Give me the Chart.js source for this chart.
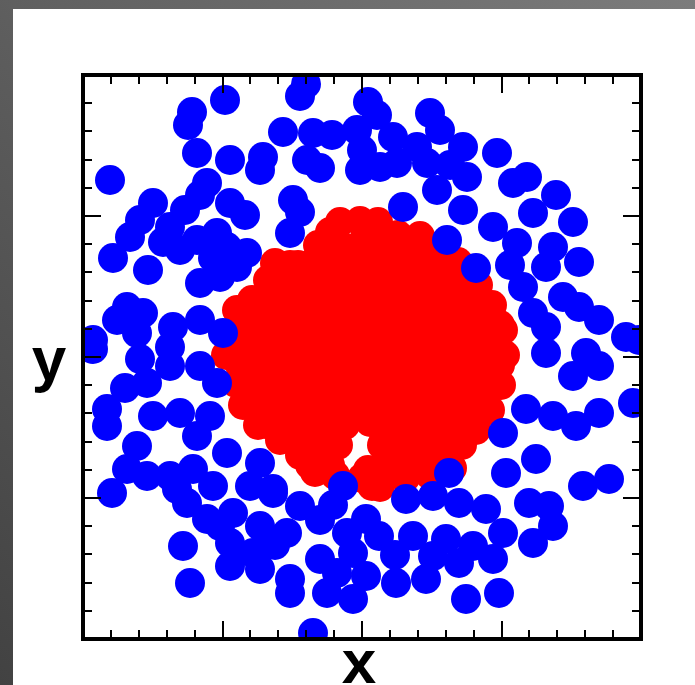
<!DOCTYPE html>
<html>
<head>
  <title>Circles Scatter</title>
  <script src="https://cdn.jsdelivr.net/npm/chart.js@4.4.0/dist/chart.umd.min.js"></script>
  <style>
    html, body { margin: 0; padding: 0; background: #555; }
    canvas { display: block; }
  </style>
</head>
<body>
  <canvas id="chart" width="695" height="685"></canvas>

  <script>
    // axis limits
    const xRange = [-2.80, 2.78];
    const yRange = [-2.83, 2.81];
    const axisTitles = ['x', 'y'];

    // outer ring (class 0)
    const ringPoints = [
      // upper left
      [-2.53, 1.76], [-1.38, 2.56], [-1.71, 2.44], [-1.75, 2.31], [-1.66, 2.03], [-1.33, 1.96],
      [-1.56, 1.73], [-1.63, 1.61], [-1.33, 1.53], [-2.10, 1.53], [-2.23, 1.36], [-2.33, 1.19],
      [-2.50, 0.98], [-2.15, 0.86], [-1.93, 1.29], [-1.83, 1.06], [-1.66, 1.16], [-1.46, 1.23],
      [-1.36, 1.09], [-1.16, 1.03], [-1.26, 0.89], [-1.63, 0.73], [-1.43, 0.79], [-2.36, 0.49],
      [-2.46, 0.36], [-2.20, 0.43], [-2.26, 0.23], [-2.70, 0.16], [-1.90, 0.29], [-1.63, 0.36],
      [-1.40, 0.23], [-1.93, 0.09], [-2.00, 1.14], [-1.50, 0.98], [-1.18, 1.41], [-1.78, 1.46],
      // top band
      [-0.63, 2.60], [-0.57, 2.72], [0.05, 2.54], [0.14, 2.41], [-0.80, 2.24], [-1.00, 1.99],
      [-1.03, 1.86], [-0.50, 2.23], [-0.31, 2.21], [-0.56, 1.96], [-0.43, 1.88], [-0.06, 2.26],
      [-0.01, 2.06], [-0.03, 1.86], [0.17, 1.89], [0.34, 1.93], [0.30, 2.19], [0.67, 2.43],
      [0.77, 2.26], [0.54, 2.09], [0.64, 1.93], [1.00, 2.09], [1.34, 2.03], [1.04, 1.79],
      [0.74, 1.66], [0.40, 1.49], [1.00, 1.46], [1.50, 1.73], [1.64, 1.79], [-0.70, 1.56],
      [-0.63, 1.44], [-0.73, 1.23], [0.84, 1.16], [1.70, 1.43], [1.30, 1.29], [1.54, 1.13],
      [0.87, 1.91],
      // upper right
      [1.93, 1.61], [2.10, 1.34], [1.13, 0.88], [1.90, 1.09], [2.16, 0.94], [1.83, 0.89],
      [1.60, 0.69], [2.00, 0.59], [2.16, 0.49], [1.70, 0.43], [1.83, 0.29], [2.36, 0.36],
      [2.63, 0.19], [2.76, 0.16], [1.83, 0.03], [2.23, 0.03], [1.47, 0.91],
      // lower right
      [2.10, -0.20], [2.36, -0.10], [2.70, -0.47], [1.63, -0.53], [1.90, -0.60], [2.36, -0.57],
      [2.13, -0.70], [1.40, -0.77], [1.73, -1.03], [1.43, -1.17], [2.20, -1.30], [2.46, -1.23],
      [0.86, -1.17], [0.43, -1.43], [0.70, -1.40], [0.96, -1.47], [1.23, -1.53],
      [1.66, -1.47], [1.86, -1.50], [1.90, -1.70], [1.70, -1.87], [1.40, -1.77], [0.03, -1.63],
      [0.16, -1.80], [0.50, -1.80], [0.83, -1.83], [1.10, -1.90], [1.30, -2.03], [-0.10, -1.97],
      [0.03, -2.20], [0.33, -2.27], [0.63, -2.23], [0.96, -2.07], [1.03, -2.43], [1.36, -2.37],
      [-0.10, -2.43], [0.70, -2.00], [0.32, -1.99],
      // lower left
      [-2.70, 0.07], [-2.23, -0.03], [-1.93, -0.10], [-1.63, -0.10], [-1.46, -0.27], [-2.16, -0.27],
      [-2.56, -0.53], [-2.56, -0.70], [-2.10, -0.60], [-1.83, -0.57], [-1.53, -0.60], [-1.66, -0.80],
      [-1.36, -0.97], [-2.26, -0.90], [-2.36, -1.13], [-2.16, -1.20], [-2.51, -1.37], [-1.93, -1.20],
      [-1.70, -1.13], [-1.50, -1.30], [-1.76, -1.47], [-1.56, -1.63], [-1.03, -1.07], [-1.13, -1.30],
      [-0.90, -1.37], [-0.63, -1.50], [-1.30, -1.57], [-1.03, -1.70], [-0.76, -1.77], [-1.33, -1.87],
      [-1.10, -1.97], [-1.33, -2.10], [-1.03, -2.13], [-1.80, -1.90], [-1.73, -2.27], [-0.73, -2.23],
      [-0.73, -2.37], [-0.36, -2.37], [-0.26, -2.17], [-0.16, -1.77], [-0.20, -1.30], [-0.50, -2.77],
      [-0.43, -2.03], [-0.43, -1.64], [-0.30, -1.49], [-1.86, -1.33], [-1.43, -1.70], [-0.90, -1.33],
      [-2.38, -0.32], [-0.88, -1.89]
    ];

    // inner disc (class 1)
    const discPoints = [
      [-0.23, 1.34], [-0.03, 1.35], [0.15, 1.34], [0.35, 1.21], [0.57, 1.20], [0.77, 1.08],
      [0.95, 0.94], [1.15, 0.71], [1.29, 0.51], [1.40, 0.26], [1.42, 0.01], [1.38, -0.29],
      [1.27, -0.54], [1.13, -0.74], [0.99, -0.89], [0.89, -1.12], [0.67, -1.19], [0.42, -1.22],
      [0.17, -1.31], [-0.01, -1.22], [-0.28, -1.19], [-0.48, -1.16], [-0.63, -0.99], [-0.83, -0.84],
      [-1.05, -0.69], [-1.20, -0.49], [-1.27, -0.27], [-1.37, 0.01], [-1.27, 0.21], [-1.26, 0.46],
      [-1.11, 0.56], [-0.95, 0.76], [-0.88, 0.93], [-0.65, 0.91], [-0.45, 1.11], [-0.33, 1.24],
      [-0.23, 1.11], [-0.03, 1.11], [0.17, 1.11], [0.37, 1.11], [0.57, 1.11],
      [-0.73, 0.91], [-0.53, 0.91], [-0.33, 0.91], [-0.13, 0.91], [0.07, 0.91], [0.27, 0.91],
      [0.47, 0.91], [0.67, 0.91], [0.87, 0.91],
      [-0.83, 0.71], [-0.63, 0.71], [-0.43, 0.71], [-0.23, 0.71], [-0.03, 0.71], [0.17, 0.71],
      [0.37, 0.71], [0.57, 0.71], [0.77, 0.71], [0.97, 0.71],
      [-1.13, 0.51], [-0.93, 0.51], [-0.73, 0.51], [-0.53, 0.51], [-0.33, 0.51], [-0.13, 0.51],
      [0.07, 0.51], [0.27, 0.51], [0.47, 0.51], [0.67, 0.51], [0.87, 0.51], [1.07, 0.51],
      [-1.23, 0.31], [-1.03, 0.31], [-0.83, 0.31], [-0.63, 0.31], [-0.43, 0.31], [-0.23, 0.31],
      [-0.03, 0.31], [0.17, 0.31], [0.37, 0.31], [0.57, 0.31], [0.77, 0.31], [0.97, 0.31],
      [1.17, 0.31], [1.37, 0.31],
      [-1.33, 0.11], [-1.13, 0.11], [-0.93, 0.11], [-0.73, 0.11], [-0.53, 0.11], [-0.33, 0.11],
      [-0.13, 0.11], [0.07, 0.11], [0.27, 0.11], [0.47, 0.11], [0.67, 0.11], [0.87, 0.11],
      [1.07, 0.11], [1.27, 0.11],
      [-1.23, -0.09], [-1.03, -0.09], [-0.83, -0.09], [-0.63, -0.09], [-0.43, -0.09], [-0.23, -0.09],
      [-0.03, -0.09], [0.17, -0.09], [0.37, -0.09], [0.57, -0.09], [0.77, -0.09], [0.97, -0.09],
      [1.17, -0.09], [1.37, -0.09],
      [-1.13, -0.29], [-0.93, -0.29], [-0.73, -0.29], [-0.53, -0.29], [-0.33, -0.29], [-0.13, -0.29],
      [0.07, -0.29], [0.27, -0.29], [0.47, -0.29], [0.67, -0.29], [0.87, -0.29], [1.07, -0.29],
      [1.27, -0.29],
      [-1.03, -0.49], [-0.83, -0.49], [-0.63, -0.49], [-0.43, -0.49], [-0.23, -0.49], [-0.03, -0.49],
      [0.17, -0.49], [0.37, -0.49], [0.57, -0.49], [0.77, -0.49], [0.97, -0.49], [1.17, -0.49],
      [-0.93, -0.69], [-0.73, -0.69], [-0.53, -0.69], [-0.33, -0.69], [-0.18, -0.69], [0.07, -0.66],
      [0.27, -0.69], [0.47, -0.69], [0.67, -0.69], [0.87, -0.69], [1.07, -0.69],
      [-0.63, -0.89], [-0.43, -0.89], [-0.25, -0.89], [0.19, -0.89], [0.37, -0.89], [0.57, -0.89],
      [0.77, -0.89],
      [-0.53, -1.09], [-0.33, -1.09], [0.05, -1.14], [0.09, -1.30], [0.27, -1.09], [0.47, -1.09],
      [0.67, -1.09], [0.87, -1.09]
    ];

    const toXY = pts => pts.map(p => ({ x: p[0], y: p[1] }));

    // grey frame around the white panel
    const backdrop = {
      id: 'backdrop',
      beforeDraw(chart) {
        const { ctx, width, height } = chart;
        ctx.save();
        const g = ctx.createLinearGradient(0, height, width, 0);
        g.addColorStop(0, '#424242');
        g.addColorStop(1, '#7c7c7c');
        ctx.fillStyle = g;
        ctx.fillRect(0, 0, width, height);
        ctx.fillStyle = '#ffffff';
        ctx.fillRect(13, 9, width - 13, height - 9);
        ctx.restore();
      }
    };

    // box with inward ticks on all four sides, plus axis letters
    const frame = {
      id: 'frame',
      afterDatasetsDraw(chart) {
        const { ctx, chartArea: a, scales } = chart;
        const xs = scales.x, ys = scales.y;
        ctx.save();
        ctx.strokeStyle = '#000';
        ctx.lineWidth = 2;
        ctx.beginPath();
        for (let i = 1; i < 20; i++) {
          const len = i % 5 === 0 ? 18 : 9;
          const px = Math.round(xs.getPixelForValue(xRange[0] + (xRange[1] - xRange[0]) * i / 20));
          ctx.moveTo(px, a.bottom); ctx.lineTo(px, a.bottom - len);
          ctx.moveTo(px, a.top); ctx.lineTo(px, a.top + len);
          const py = Math.round(ys.getPixelForValue(yRange[0] + (yRange[1] - yRange[0]) * i / 20));
          ctx.moveTo(a.left, py); ctx.lineTo(a.left + len, py);
          ctx.moveTo(a.right, py); ctx.lineTo(a.right - len, py);
        }
        ctx.stroke();
        ctx.lineWidth = 4;
        ctx.strokeRect(a.left, a.top, a.right - a.left, a.bottom - a.top);

        ctx.fillStyle = '#000';
        ctx.font = 'bold 62px "Liberation Sans", Arial, sans-serif';
        ctx.textAlign = 'center';
        ctx.textBaseline = 'alphabetic';
        ctx.fillText(axisTitles[0], (a.left + a.right) / 2 - 3, 683);
        ctx.fillText(axisTitles[1], 49, 380);
        ctx.restore();
      }
    };

    new Chart(document.getElementById('chart'), {
      type: 'scatter',
      data: {
        datasets: [
          {
            label: 'ring',
            data: toXY(ringPoints),
            backgroundColor: '#0000ff',
            borderWidth: 0,
            pointRadius: 15,
            pointHoverRadius: 15,
            clip: 0,
            order: 0
          },
          {
            label: 'disc',
            data: toXY(discPoints),
            backgroundColor: '#ff0000',
            borderWidth: 0,
            pointRadius: 15,
            pointHoverRadius: 15,
            clip: 0,
            order: 1
          }
        ]
      },
      options: {
        responsive: false,
        devicePixelRatio: 1,
        animation: false,
        events: [],
        layout: { padding: { left: 83, top: 75, right: 54, bottom: 46 } },
        plugins: { legend: { display: false }, tooltip: { enabled: false } },
        scales: {
          x: { type: 'linear', display: false, min: xRange[0], max: xRange[1] },
          y: { type: 'linear', display: false, min: yRange[0], max: yRange[1] }
        }
      },
      plugins: [backdrop, frame]
    });
  </script>
</body>
</html>
